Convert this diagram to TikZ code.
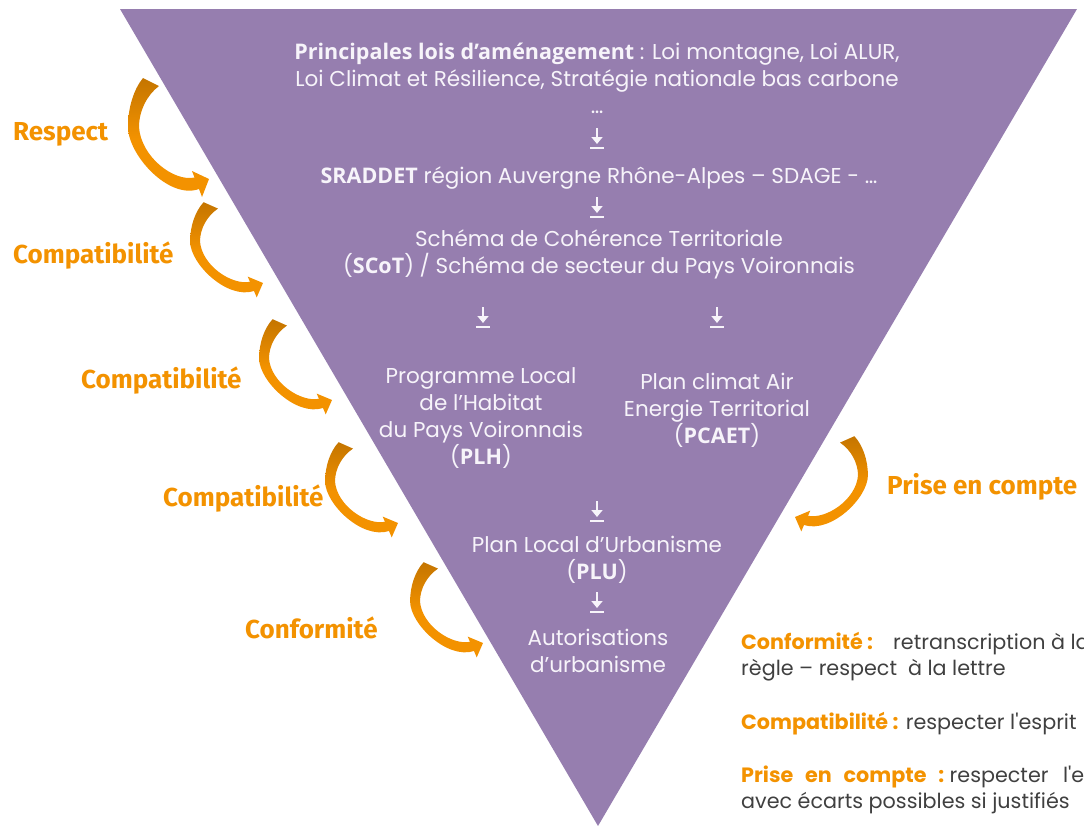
\documentclass[tikz,border=0pt]{standalone}
\usepackage{fontspec}
\setmainfont{Poppins}
\newfontfamily\strongfont{Open Sans}
\newfontfamily\labelfont{Fira Sans}
\newfontfamily\legendfont{Poppins}[Ligatures=TeXOff]
\usetikzlibrary{arrows.meta}

\definecolor{lilac}{HTML}{967EAF}
\definecolor{amber}{HTML}{F39200}
\definecolor{amberdark}{HTML}{C47500}
\definecolor{ink}{HTML}{404040}
\definecolor{paper}{HTML}{F7F4FA}

\tikzset{
  % small "arrow onto a bar" sign between two levels
  pics/downbar/.style={code={
    \draw[paper, line width=2.4pt, -{Triangle[width=11pt,length=7pt]}] (0,-20) -- (0,-4);
    \draw[paper, line width=2.4pt] (-7,0) -- (7,0);
  }},
  % curled ribbon arrow, tip at the origin
  pics/bendarrow/.style={code={
    \shade[top color=amberdark, bottom color=amber, middle color=amber]
      (-66,-101) .. controls (-75,-90) and (-81,-72) .. (-81,-52)
      .. controls (-81,-24) and (-40,21) .. (-10,10)
      -- (-7,18) -- (0,0) -- (-17,-8) -- (-14.5,-1.5)
      .. controls (-35,3) and (-68,-22) .. (-70,-52)
      .. controls (-70,-68) and (-62,-84) .. (-50,-93) -- cycle;
  }},
  tri/.style={font=\fontsize{21.5}{27}\selectfont, text=paper, align=center, inner sep=0pt},
  law/.style={font=\labelfont\bfseries\fontsize{26}{30}\selectfont, text=amber, inner sep=0pt, anchor=base west},
  legend/.style={font=\legendfont\fontsize{20.7}{26}\selectfont, text=ink, inner sep=0pt, anchor=base west},
}

\begin{document}
\begin{tikzpicture}[x=1pt, y=-1pt]
\useasboundingbox (0,0) rectangle (1084,827);

% the hierarchy funnel
\fill[lilac] (120,9) -- (1077,9) -- (598,826) -- cycle;

% levels of the hierarchy
\node[tri] (laws) at (597,78) {{\strongfont\bfseries Principales lois d’aménagement} : Loi montagne, Loi ALUR,\\
  Loi Climat et Résilience, Stratégie nationale bas carbone\\ …};
\node[tri] (sraddet) at (599,178) {{\strongfont\bfseries SRADDET} région Auvergne Rhône-Alpes – SDAGE - …};
\node[tri] (scot) at (599,254) {Schéma de Cohérence Territoriale\\
  ({\strongfont\bfseries SCoT}) / Schéma de secteur du Pays Voironnais};
\node[tri] (plh) at (481,418) {Programme Local\\de l’Habitat\\du Pays Voironnais\\({\strongfont\bfseries PLH})};
\node[tri] (pcaet) at (717,410) {Plan climat Air\\Energie Territorial\\({\strongfont\bfseries PCAET})};
\node[tri] (plu) at (597,560) {Plan Local d’Urbanisme\\({\strongfont\bfseries PLU})};
\node[tri] (auto) at (598,651) {Autorisations\\d’urbanisme};

% arrows between levels
\coordinate (d1) at (597,148);
\coordinate (d2) at (597,217);
\coordinate (d3) at (483,327);
\coordinate (d4) at (717,327);
\coordinate (d5) at (597,521);
\coordinate (d6) at (597,612);
\foreach \c in {d1,d2,d3,d4,d5,d6} \pic at (\c) {downbar};

% relation arrows along the sides
\pic at (209,179) {bendarrow};
\pic[xscale=0.9, yscale=0.8] at (263,283) {bendarrow};
\pic[xscale=0.9, yscale=0.8] at (332,400) {bendarrow};
\pic[xscale=0.9, yscale=0.8] at (398,523) {bendarrow};
\pic[xscale=0.9, yscale=0.8] at (483,643) {bendarrow};
\pic[xscale=-0.9, yscale=0.8] at (795,517) {bendarrow};

% relation labels
\node[law] (respect) at (13,140) {Respect};
\node[law] (compat1) at (13,263) {Compatibilité};
\node[law] (compat2) at (81,388) {Compatibilité};
\node[law] (compat3) at (163,506) {Compatibilité};
\node[law] (conform) at (245,638) {Conformité};
\node[law] (prise) at (887,494) {Prise en compte};

% definitions
\node[legend] (def1) at (741,649) {\makebox[152pt][l]{\bfseries\color{amber}Conformité :}retranscription à la};
\node[legend] (def1b) at (741,675) {règle – respect\ \ à la lettre};
\node[legend] (def2) at (741,729) {{\bfseries\color{amber}Compatibilité :} respecter l'esprit};
\node[legend] (def3) at (741,782) {\makebox[203pt][s]{\bfseries\color{amber}Prise en compte :} respecter\hspace{9pt} l'esprit};
\node[legend] (def3b) at (741,808) {avec écarts possibles si justifiés};
\end{tikzpicture}
\end{document}
